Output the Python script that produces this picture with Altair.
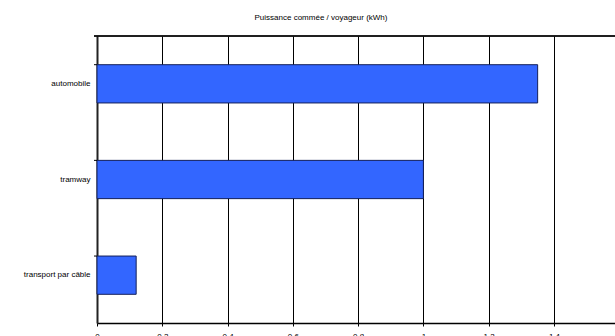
import altair as alt
import pandas as pd

categories = ["automobile", "tramway", "transport par câble"]
values = [1.35, 1.0, 0.12]
x_ticks = [0, 0.2, 0.4, 0.6, 0.8, 1.0, 1.2, 1.4]
title_text = "Puissance commée / voyageur (kWh)"

df = pd.DataFrame({"mode": categories, "value": values})

FONT = "Liberation Sans"

y_axis = alt.Axis(title=None, ticks=False, labelPadding=7, labelFontSize=8,
                  labelFont=FONT, labelColor="black", domain=True,
                  domainColor="#222222", domainWidth=2)
y_scale = alt.Scale(paddingInner=0.6, paddingOuter=0.3)

x_enc = alt.X("value:Q",
              scale=alt.Scale(domain=[0, 1.587], nice=False, zero=True),
              axis=alt.Axis(title=None, values=x_ticks, grid=True, gridColor="black",
                            gridOpacity=1, gridWidth=1, tickSize=3, tickColor="black",
                            labelPadding=6, labelFontSize=8, labelFont=FONT,
                            labelColor="black", labelFlush=False, format="~g",
                            domainColor="black", domainWidth=1.5))

bars = alt.Chart(df).mark_bar(fill="#3366ff", stroke="#14205a", strokeWidth=1).encode(
    x=x_enc,
    y=alt.Y("mode:N", sort=categories, scale=y_scale, axis=y_axis),
)

cat_ticks = alt.Chart(df).mark_rule(color="black", strokeWidth=1).encode(
    y=alt.Y("mode:N", sort=categories, scale=y_scale, axis=y_axis, bandPosition=0),
    x=alt.value(-3),
    x2=alt.value(0),
)

top_border = alt.Chart(df).mark_rule(color="black", strokeWidth=1).encode(
    y=alt.value(0),
    x=alt.value(-3),
    x2=alt.value("width"),
)

chart = alt.layer(bars, cat_ticks, top_border).properties(
    width=518,
    height=287,
    padding={"left": 97, "top": 36, "right": 0, "bottom": 13},
    autosize=alt.AutoSizeParams(type="none"),
    background="white",
    title=alt.TitleParams(title_text, fontSize=8, font=FONT, fontWeight="normal",
                          color="black", anchor="middle", dx=-35, offset=8,
                          baseline="alphabetic"),
).configure_view(stroke=None)

chart.save("out.html", embed_options={"renderer": "svg", "actions": False})
